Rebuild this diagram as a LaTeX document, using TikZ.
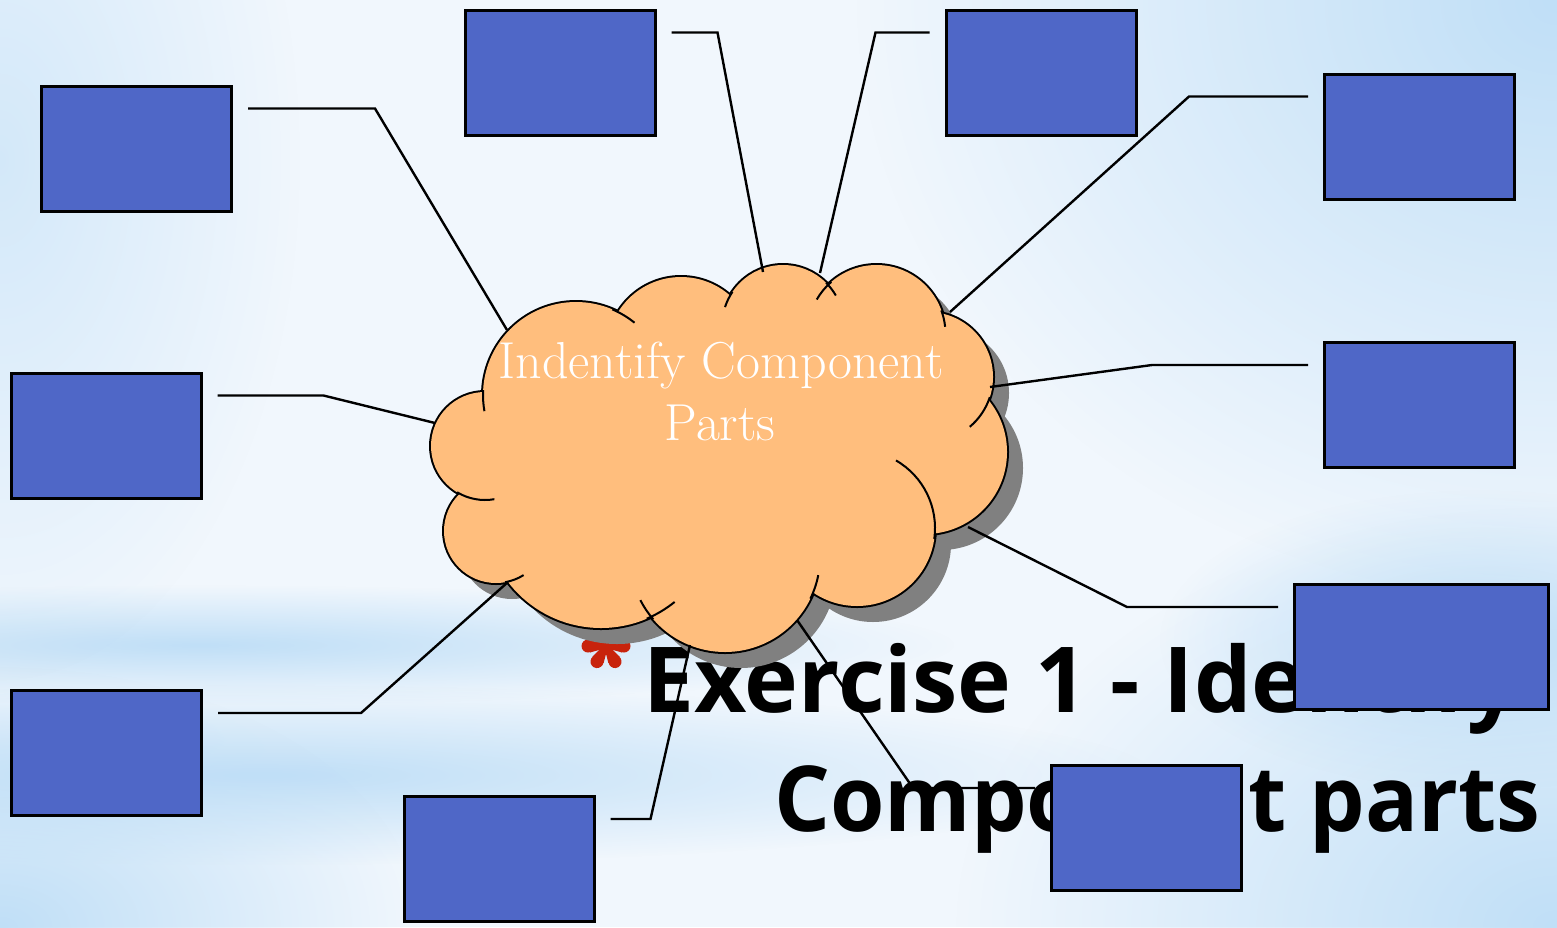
\documentclass[tikz,border=0pt]{standalone}
\usepackage{fontspec}
\newfontfamily\titlefont{Open Sans}
\usetikzlibrary{fadings,calc}
\definecolor{bgbase}{RGB}{241,247,253}
\definecolor{bgblue}{RGB}{192,223,247}
\definecolor{boxblue}{RGB}{79,103,199}
\definecolor{cloudorange}{RGB}{255,190,125}
\definecolor{shadowgray}{RGB}{128,128,128}
\definecolor{starred}{RGB}{200,35,12}
\tikzfading[name=softblob, inner color=transparent!0, outer color=transparent!100]
\begin{document}
\begin{tikzpicture}[x=1pt,y=-1pt,
  box/.style={draw=black, line width=3pt, fill=boxblue, minimum width=190pt, minimum height=125pt, inner sep=0pt},
  conn/.style={draw=black, line width=2.4pt, line join=miter},
  tail/.style={draw=black, line width=2pt},
  titletxt/.style={font=\titlefont\bfseries\fontsize{91}{110}\selectfont, text=black, inner sep=0pt},
  cloudtxt/.style={font=\fontsize{52}{62}\selectfont, text=white, inner sep=0pt},
  blob/.style={fill=bgblue, path fading=softblob}]
\useasboundingbox (0,0) rectangle (1557,927);
% background
\fill[bgbase] (0,0) rectangle (1557,927);
\fill[blob] (1557,0) ellipse[x radius=700, y radius=600];
\fill[blob] (1557,927) ellipse[x radius=600, y radius=420];
\fill[blob] (1480,640) ellipse[x radius=320, y radius=150];
\fill[blob] (200,645) ellipse[x radius=760, y radius=60];
\fill[blob] (260,775) ellipse[x radius=900, y radius=90];
\fill[blob, opacity=0.6] (0,160) ellipse[x radius=300, y radius=520];
\fill[blob] (0,927) ellipse[x radius=420, y radius=260];

% title
\node[titletxt, anchor=base west] (t1) at (643,712) {Exercise 1 - Identify};
\node[titletxt, anchor=base east] (t2) at (1541,831) {\scalebox{0.967}[1]{Component parts}};

% star bullet
\foreach \a in {0,60,...,300}{
  \fill[starred, rotate around={\a:(606,646)}] (606,644) -- (622,639.5) -- (622,652.5) -- (606,648) -- cycle;
  \fill[starred, rotate around={\a:(606,646)}] (624,646) circle[radius=6.5];
}

% cloud
\def\bumps{576/395/93, 681/351/74, 783/326/61, 876.5/334/69, 928/377/65, 925/452/82, 857/528/78, 725/557/95, 601/511/117, 496/531/52, 485/446/54}
\def\core{(576,395) -- (681,351) -- (783,326) -- (876.5,334) -- (928,377) -- (925,452) -- (857,528) -- (725,557) -- (601,511) -- (496,531) -- (485,446) -- cycle}
\begin{scope}[shift={(16,16)}]
  \foreach \x/\y/\r in \bumps { \fill[shadowgray] (\x,\y) circle[radius=\r]; }
  \fill[shadowgray] \core;
\end{scope}
\foreach \x/\y/\r in \bumps { \draw[black, line width=4pt] (\x,\y) circle[radius=\r]; }
\foreach \x/\y/\r in \bumps { \fill[cloudorange] (\x,\y) circle[radius=\r]; }
\fill[cloudorange] \core;
\foreach \x/\y/\r/\a/\b in {576/395/93/183/170, 576/395/93/-67/-51, 783/326/61/-146/-162, 783/326/61/-45/-30,
  876.5/334/69/-131/-150, 876.5/334/69/-20/-6, 928/377/65/18/50, 857/528/78/8/-60, 725/557/95/26/11,
  725/557/95/139/153, 601/511/117/67/51, 496/531/52/80/58, 485/446/54/121/80}{
  \draw[tail] (\x,\y) ++(\a:\r) arc[start angle=\a, end angle=\b, radius=\r];
}
\node[cloudtxt, anchor=base] (ct1) at (721,378) {Indentify Component};
\node[cloudtxt, anchor=base] (ct2) at (720,440) {Parts};

% boxes
\node[box] (b1) at (136.5,148.5) {};
\node[box] (b2) at (560,72.5) {};
\node[box] (b3) at (1041,72.5) {};
\node[box] (b4) at (1419.5,136.5) {};
\node[box] (b5) at (1419.5,405) {};
\node[box, minimum width=254pt] (b6) at (1421.5,647) {};
\node[box] (b7) at (1146.5,828) {};
\node[box] (b8) at (499,859) {};
\node[box] (b9) at (106.5,753) {};
\node[box] (b10) at (106,435.5) {};

% connector points
\coordinate (s1) at ($(b1.north east)+(15,24)$);  \coordinate (k1) at ($(s1)+(127,0)$);  \coordinate (c1) at (507,330);
\coordinate (s2) at ($(b2.north east)+(15,24)$);  \coordinate (k2) at ($(s2)+(46,0)$);   \coordinate (c2) at (763,272);
\coordinate (s3) at ($(b3.north west)+(-15,24)$); \coordinate (k3) at ($(s3)+(-54,0)$);  \coordinate (c3) at (820,273);
\coordinate (s4) at ($(b4.north west)+(-15,24)$); \coordinate (k4) at ($(s4)+(-119,0)$); \coordinate (c4) at (950,312);
\coordinate (s5) at ($(b5.north west)+(-15,24)$); \coordinate (k5) at ($(s5)+(-156,0)$); \coordinate (c5) at (990,387);
\coordinate (s6) at ($(b6.north west)+(-15,24)$); \coordinate (k6) at ($(s6)+(-151,0)$); \coordinate (c6) at (968,527);
\coordinate (s7) at ($(b7.north west)+(-15,24)$); \coordinate (k7) at ($(s7)+(-122,0)$); \coordinate (c7) at (797,620);
\coordinate (s8) at ($(b8.north east)+(15,24)$);  \coordinate (k8) at ($(s8)+(40,0)$);   \coordinate (c8) at (690,645);
\coordinate (s9) at ($(b9.north east)+(15,24)$);  \coordinate (k9) at ($(s9)+(143,0)$);  \coordinate (c9) at (508,582);
\coordinate (s10) at ($(b10.north east)+(15,24)$); \coordinate (k10) at ($(s10)+(106,0)$); \coordinate (c10) at (435,423);
\foreach \i in {1,...,10}{ \draw[conn] (s\i) -- (k\i) -- (c\i); }
\end{tikzpicture}
\end{document}
